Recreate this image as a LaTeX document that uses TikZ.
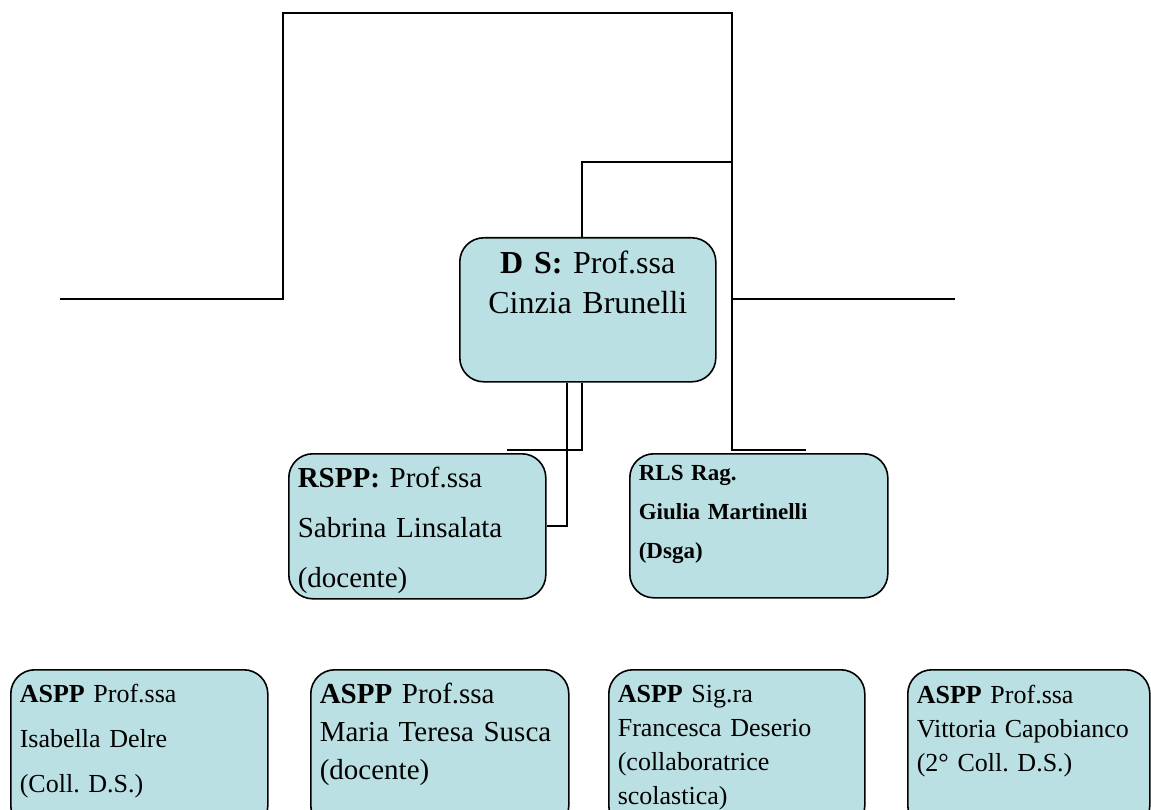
\documentclass[tikz,border=0pt]{standalone}
\usepackage{fontspec}
\setmainfont{Liberation Serif}
\frenchspacing
\definecolor{boxfill}{HTML}{BBE0E3}

\tikzset{
  orgbox/.style={draw=black, line width=1.6pt, fill=boxfill, rounded corners=24pt,
    anchor=north west, inner xsep=9pt, inner ysep=0pt, align=left},
  wire/.style={line width=2pt},
}

\begin{document}
\begin{tikzpicture}[x=1pt,y=-1pt]
\clip (0,0) rectangle (1151,810);

% capo
\node[orgbox, align=center, text width=238pt, text height=36pt, text depth=108pt,
  font=\fontsize{32}{40}\selectfont] (ds) at (459,237) {\textbf{D S:} Prof.ssa\\Cinzia Brunelli};

% secondo livello
\node[orgbox, text width=239pt, text height=34pt, text depth=111pt,
  font=\fontsize{29}{50}\selectfont] (rspp) at (288,453)
  {\textbf{RSPP:} Prof.ssa\\Sabrina Linsalata\\(docente)};
\node[orgbox, text width=240pt, text height=27pt, text depth=117pt,
  font=\fontsize{23}{39}\selectfont\bfseries] (rls) at (629,453)
  {RLS Rag.\\Giulia Martinelli\\(Dsga)};

% addetti
\node[orgbox, text width=239pt, text height=33pt, text depth=127pt,
  font=\fontsize{26}{45}\selectfont] (asppa) at (10,669)
  {\textbf{ASPP} Prof.ssa\\Isabella Delre\\(Coll. D.S.)};
\node[orgbox, text width=240pt, text height=34pt, text depth=126pt,
  font=\fontsize{29}{38}\selectfont] (asppb) at (310,669)
  {\textbf{ASPP} Prof.ssa\\Maria Teresa Susca\\(docente)};
\node[orgbox, text width=238pt, text height=33pt, text depth=127pt,
  font=\fontsize{26}{34}\selectfont] (asppc) at (608,669)
  {\textbf{ASPP} Sig.ra\\Francesca Deserio\\(collaboratrice\\scolastica)};
\node[orgbox, text width=224pt, text height=34pt, text depth=126pt,
  font=\fontsize{26}{34}\selectfont] (asppd) at (907,669)
  {\textbf{ASPP} Prof.ssa\\Vittoria Capobianco\\(2° Coll. D.S.)};

% linee
\coordinate (lfree) at (60,299);
\coordinate (rfree) at (955,299);
\coordinate (rlsfree) at (806,450);
\coordinate (rsppfree) at (507,450);

\draw[wire] (lfree) -| (283,13) -| (732,450) -- (rlsfree);
\draw[wire] (732,299) -- (rfree);
\draw[wire] ([xshift=-6pt]ds.north) |- (732,162);
\draw[wire] ([xshift=-6pt]ds.south) |- (rsppfree);
\draw[wire] ([xshift=-21pt]ds.south) |- (rspp.east);
\end{tikzpicture}
\end{document}
